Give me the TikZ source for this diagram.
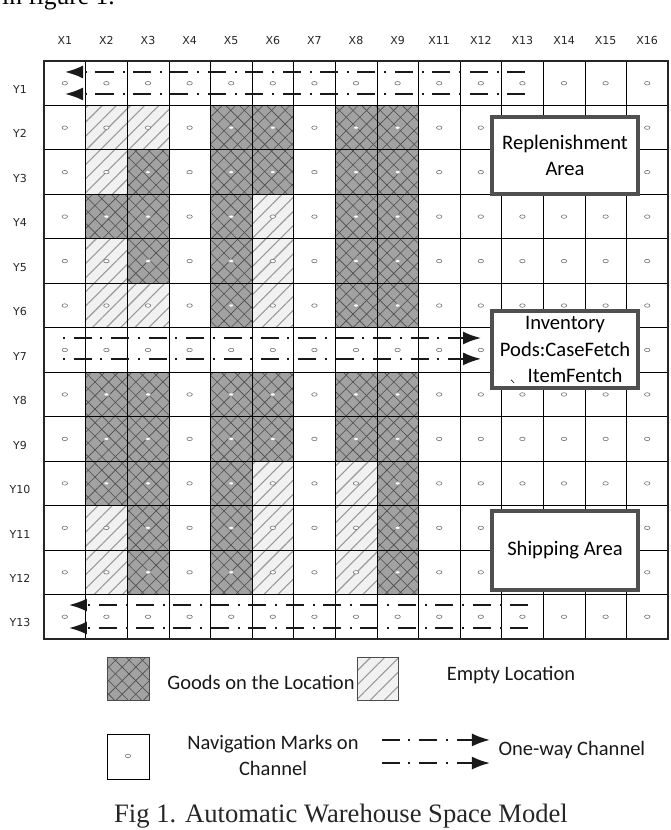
\documentclass[tikz,border=0pt]{standalone}
\usepackage{fontspec}
\setmainfont{Carlito}
\newfontfamily\gridfont{DejaVu Sans}
\newfontfamily\capfont{Liberation Serif}
\usetikzlibrary{patterns.meta,arrows.meta,shapes.geometric}
\definecolor{goodsgray}{HTML}{A2A2A2}
\definecolor{emptygray}{HTML}{F1F1F1}
\definecolor{areaedge}{HTML}{505050}
\tikzset{
  goodsloc/.style={preaction={fill=goodsgray},
    postaction={pattern={Lines[angle=45,distance=9.6pt,line width=.6pt]},pattern color=black!70},
    postaction={pattern={Lines[angle=-45,distance=9.6pt,line width=.6pt]},pattern color=black!70}},
  emptyloc/.style={preaction={fill=emptygray},
    postaction={pattern={Lines[angle=45,distance=10pt,line width=1.1pt]},pattern color=black!40}},
  navmark/.style={ellipse,draw=black!55,fill=white,line width=.6pt,inner sep=0pt,minimum width=5.5pt,minimum height=3.5pt},
  goodsmark/.style={navmark,draw=goodsgray,line width=1pt},
  gridlabel/.style={font=\gridfont\fontsize{11}{12}\selectfont,text=black!85,text height=8pt,text depth=0pt},
  legendtext/.style={font=\fontsize{20.5}{26}\selectfont,align=center,text=black!90},
  areabox/.style={draw=areaedge,fill=white,line width=3.5pt,minimum width=146pt,font=\fontsize{20.6}{26.8}\selectfont,align=center,inner sep=0pt},
  channel/.style={line width=2pt,draw=black!90,dash pattern=on 18pt off 8.4pt on 2pt off 9pt,-{Latex[length=18pt,width=13pt]}},
  channelrev/.style={channel,dash phase=26.4pt}
}
\begin{document}
\begin{tikzpicture}[x=41.6pt,y=-44.46pt]
\useasboundingbox (-1.0577,-1.372) rectangle (15.048,17.296);
\node[anchor=base west,font=\capfont\fontsize{25.5}{28}\selectfont,inner sep=0pt] (intro) at (-1.01,-1.26) {in figure 1.};
% goods
\path[goodsloc] (1,3) rectangle (2,4);
\path[goodsloc] (1,7) rectangle (2,10);
\path[goodsloc] (2,2) rectangle (3,5);
\path[goodsloc] (2,7) rectangle (3,12);
\path[goodsloc] (4,1) rectangle (5,6);
\path[goodsloc] (4,7) rectangle (5,12);
\path[goodsloc] (5,1) rectangle (6,3);
\path[goodsloc] (5,7) rectangle (6,9);
\path[goodsloc] (7,1) rectangle (8,6);
\path[goodsloc] (7,7) rectangle (8,9);
\path[goodsloc] (8,1) rectangle (9,6);
\path[goodsloc] (8,7) rectangle (9,12);
% empty
\path[emptyloc] (1,1) rectangle (2,3);
\path[emptyloc] (1,4) rectangle (2,6);
\path[emptyloc] (1,10) rectangle (2,12);
\path[emptyloc] (2,1) rectangle (3,2);
\path[emptyloc] (2,5) rectangle (3,6);
\path[emptyloc] (5,3) rectangle (6,6);
\path[emptyloc] (5,9) rectangle (6,12);
\path[emptyloc] (7,9) rectangle (8,12);
% begin x
\draw (1,0)--(1,13);
\draw (2,0)--(2,13);
\draw (3,0)--(3,13);
\draw (4,0)--(4,13);
\draw (5,0)--(5,13);
\draw (6,0)--(6,13);
\draw (7,0)--(7,13);
\draw (8,0)--(8,13);
\draw (9,0)--(9,13);
\draw (10,0)--(10,13);
\draw (11,0)--(11,13);
\draw (12,0)--(12,13);
\draw (13,0)--(13,13);
\draw (14,0)--(14,13);
\node[gridlabel] (x1) at (.5,-.45) {X1};
\node[gridlabel] (x2) at (1.5,-.45) {X2};
\node[gridlabel] (x3) at (2.5,-.45) {X3};
\node[gridlabel] (x4) at (3.5,-.45) {X4};
\node[gridlabel] (x5) at (4.5,-.45) {X5};
\node[gridlabel] (x6) at (5.5,-.45) {X6};
\node[gridlabel] (x7) at (6.5,-.45) {X7};
\node[gridlabel] (x8) at (7.5,-.45) {X8};
\node[gridlabel] (x9) at (8.5,-.45) {X9};
\node[gridlabel] (x11) at (9.5,-.45) {X11};
\node[gridlabel] (x12) at (10.5,-.45) {X12};
\node[gridlabel] (x13) at (11.5,-.45) {X13};
\node[gridlabel] (x14) at (12.5,-.45) {X14};
\node[gridlabel] (x15) at (13.5,-.45) {X15};
\node[gridlabel] (x16) at (14.5,-.45) {X16};
% begin y
\draw[line width=.9pt] (0,1)--(15,1);
\draw[line width=.9pt] (0,2)--(15,2);
\draw[line width=.9pt] (0,3)--(15,3);
\draw[line width=.9pt] (0,4)--(15,4);
\draw[line width=.9pt] (0,5)--(15,5);
\draw[line width=.9pt] (0,6)--(15,6);
\draw[line width=.9pt] (0,7)--(15,7);
\draw[line width=.9pt] (0,8)--(15,8);
\draw[line width=.9pt] (0,9)--(15,9);
\draw[line width=.9pt] (0,10)--(15,10);
\draw[line width=.9pt] (0,11)--(15,11);
\draw[line width=.9pt] (0,12)--(15,12);
\draw[line width=2.2pt,draw=black!85] (0,0) rectangle (15,13);
\node[gridlabel] (y1) at (-.577,.64) {Y1};
\node[gridlabel] (y2) at (-.577,1.64) {Y2};
\node[gridlabel] (y3) at (-.577,2.64) {Y3};
\node[gridlabel] (y4) at (-.577,3.64) {Y4};
\node[gridlabel] (y5) at (-.577,4.64) {Y5};
\node[gridlabel] (y6) at (-.577,5.64) {Y6};
\node[gridlabel] (y7) at (-.577,6.64) {Y7};
\node[gridlabel] (y8) at (-.577,7.64) {Y8};
\node[gridlabel] (y9) at (-.577,8.64) {Y9};
\node[gridlabel] (y10) at (-.577,9.64) {Y10};
\node[gridlabel] (y11) at (-.577,10.64) {Y11};
\node[gridlabel] (y12) at (-.577,11.64) {Y12};
\node[gridlabel] (y13) at (-.577,12.64) {Y13};
% marks
\foreach \i in {0,...,14}
  \foreach \j in {0,...,12}
    \node[navmark] (m-\i-\j) at (\i+.5,\j+.5) {};
\foreach \i/\rows in {1/{3,7,8,9},2/{2,3,4,7,8,9,10,11},4/{1,2,3,4,5,7,8,9,10,11},5/{1,2,7,8},7/{1,2,3,4,5,7,8},8/{1,2,3,4,5,7,8,9,10,11}}
  \foreach \j in \rows
    \node[goodsmark] (g-\i-\j) at (\i+.5,\j+.5) {};
% channels
\coordinate (c1a) at (11.56,.247);
\coordinate (c1b) at (.505,.247);
\coordinate (c2a) at (11.56,.742);
\coordinate (c2b) at (.505,.742);
\coordinate (c3a) at (.457,6.23);
\coordinate (c3b) at (10.505,6.23);
\coordinate (c4a) at (.457,6.70);
\coordinate (c4b) at (10.505,6.70);
\coordinate (c5a) at (11.635,12.236);
\coordinate (c5b) at (.6,12.236);
\coordinate (c6a) at (11.635,12.753);
\coordinate (c6b) at (.6,12.753);
\draw[channel] (c1a)--(c1b);
\draw[channel] (c2a)--(c2b);
\draw[channelrev] (c3a)--(c3b);
\draw[channelrev] (c4a)--(c4b);
\draw[channel] (c5a)--(c5b);
\draw[channel] (c6a)--(c6b);
% areas
\node[areabox,minimum height=77pt] (replenish) at (12.524,2.125) {Replenishment\\Area};
\node[areabox,minimum height=77pt] (inventory) at (12.524,6.489) {Inventory\\Pods:CaseFetch\\\hspace*{20pt}ItemFentch};
\node[areabox,minimum height=79pt] (shipping) at (12.524,11.01) {Shipping Area};
\coordinate (tick1) at (11.23,7.17);
\coordinate (tick2) at (11.3,7.24);
\draw[line width=.6pt] (tick1)--(tick2);
% legend
\path[goodsloc] (1.514,13.405) rectangle (2.524,14.37);
\draw[draw=black!70] (1.514,13.405) rectangle (2.524,14.37);
\path[emptyloc] (7.524,13.405) rectangle (8.51,14.37);
\draw[draw=black!70] (7.524,13.405) rectangle (8.51,14.37);
\draw (1.514,15.137) rectangle (2.524,16.15);
\node[navmark] (legendmark) at (2.019,15.63) {};
\node[legendtext] (goodstext) at (5.216,13.97) {Goods on the Location};
\node[legendtext] (emptytext) at (11.226,13.81) {Empty Location};
\node[legendtext] (navtext) at (5.505,15.63) {Navigation Marks on\\Channel};
\node[legendtext] (channeltext) at (12.69,15.5) {One-way Channel};
\coordinate (l1a) at (8.125,15.27);
\coordinate (l1b) at (10.72,15.27);
\coordinate (l2a) at (8.125,15.79);
\coordinate (l2b) at (10.72,15.79);
\draw[channel] (l1a)--(l1b);
\draw[channel] (l2a)--(l2b);
\node[font=\capfont\fontsize{26.6}{30}\selectfont,text=black!85] (caption) at (7.139,16.98) {Fig 1. Automatic Warehouse Space Model};
\end{tikzpicture}
\end{document}
